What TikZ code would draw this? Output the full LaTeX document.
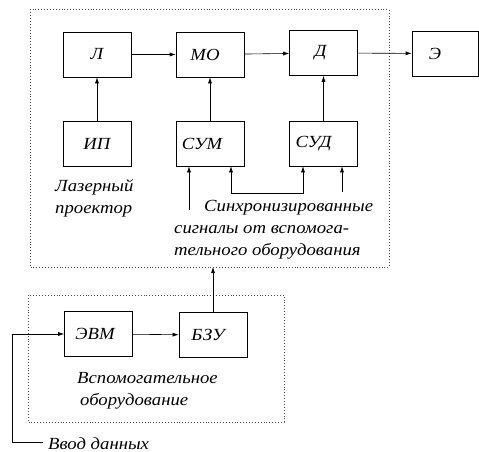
\documentclass[tikz,border=0pt]{standalone}
\usepackage{fontspec}
\setmainfont{Liberation Serif}[FakeStretch=1.1]
\usetikzlibrary{arrows.meta}
\tikzset{
  blk/.style={draw, line width=0.6pt, minimum width=68pt, minimum height=45pt, inner sep=0pt, font=\itshape\fontsize{17}{18}\selectfont},
  grp/.style={draw, line width=0.9pt, dotted, black!70},
  arr/.style={-{Latex[length=6pt,width=4pt]}, line width=0.6pt},
  lbl/.style={font=\itshape\fontsize{17}{22}\selectfont, align=left, inner sep=0pt},
}
\begin{document}
\begin{tikzpicture}[x=1pt, y=-1pt]
  \useasboundingbox (0,0) rectangle (479,452);
  % dotted groups
  \draw[grp] (30,9.5) rectangle (389,267);
  \draw[grp] (28,295) rectangle (284,422);
  \coordinate (projbot) at (0,267);
  % projector blocks
  \node[blk] (L)   at (97,54.5)  {Л};
  \node[blk] (MO)  at (210,54.5) {МО\kern10pt};
  \node[blk] (D)   at (323.5,53) {Д\kern6pt};
  \node[blk, minimum width=66pt] (E) at (445,53.5) {Э\kern20pt};
  \node[blk] (IP)  at (97,143.5)  {ИП};
  \node[blk] (SUM) at (210,143.5) {СУМ\kern16pt};
  \node[blk] (SUD) at (323.5,143.5) {СУД\kern20pt};
  \draw[arr] (L) -- (MO);
  \draw[arr] (MO) -- (D);
  \draw[arr] (D) -- (E);
  \draw[arr] (IP) -- (L);
  \draw[arr] (SUM) -- (MO);
  \draw[arr] (SUD) -- (D);
  % sync inputs
  \coordinate (s1) at (189,210);
  \coordinate (s2) at (231,193);
  \coordinate (s3) at (303,193);
  \coordinate (s4) at (342,192);
  \draw[arr] (s1) -- (s1 |- SUM.south);
  \draw[arr, {Latex[length=6pt,width=4pt]}-{Latex[length=6pt,width=4pt]}] (s2 |- SUM.south) -- (s2) -- (s3) -- (s3 |- SUD.south);
  \draw[arr] (s4) -- (s4 |- SUD.south);
  \node[lbl, anchor=west] (proj) at (55,198) {Лазерный\\проектор};
  \node[lbl, anchor=west] (sync) at (174,230)
    {\hspace{30pt}Синхронизированные\\сигналы от вспомога-\\тельного оборудования};
  % auxiliary equipment
  \node[blk] (EVM) at (98.5,334)  {ЭВМ\kern7pt};
  \node[blk] (BZU) at (213,335)   {БЗУ\kern10pt};
  \draw[arr] (EVM) -- (BZU);
  \draw[arr] (BZU.north) -- (BZU.north |- projbot);
  \node[lbl, anchor=west] (aux) at (77,391) {Вспомогательное\\\hspace{3pt}оборудование};
  \coordinate (in) at (43,442);
  \coordinate (inc) at (12,442);
  \draw[arr] (in) -- (inc) |- (EVM);
  \node[lbl, anchor=west] (inlbl) at (48,444) {Ввод данных};
\end{tikzpicture}
\end{document}
